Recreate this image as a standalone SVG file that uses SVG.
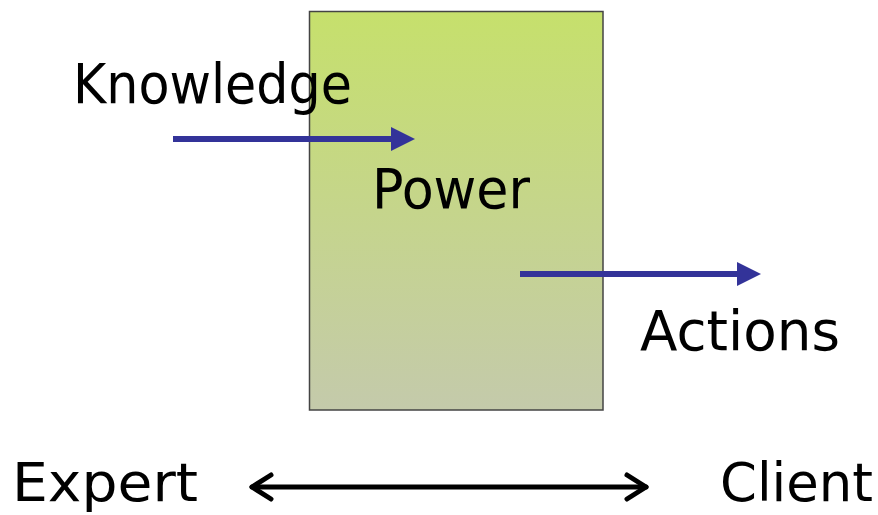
<svg xmlns="http://www.w3.org/2000/svg" width="878" height="515" viewBox="0 0 878 515">
<defs>
<linearGradient id="g" x1="0" y1="0" x2="0" y2="1">
<stop offset="0" stop-color="#c6e06c"/>
<stop offset="1" stop-color="#c4caab"/>
</linearGradient>
<marker id="blue" markerUnits="userSpaceOnUse" markerWidth="24" markerHeight="24" refX="0" refY="12" orient="auto">
<path d="M0,0 L24,12 L0,24 Z" fill="#333399"/>
</marker>
<style>
text{font-family:"DejaVu Sans","Liberation Sans",sans-serif;font-size:56px;fill:#000}
.s{font-size:54px}
.b{stroke:#333399;stroke-width:6;fill:none}
.k{stroke:#000;stroke-width:5;fill:none;stroke-linecap:round;stroke-linejoin:round}
</style>
</defs>
<g id="box"><rect x="309.5" y="11.5" width="293.5" height="398.5" fill="url(#g)" stroke="#444" stroke-width="1.5"/></g>
<g id="knowledge"><text x="73" y="103" textLength="279" lengthAdjust="spacingAndGlyphs">Knowledge</text></g>
<g id="power"><text x="372" y="208" textLength="158" lengthAdjust="spacingAndGlyphs">Power</text></g>
<g id="actions"><text x="640" y="350" textLength="200" lengthAdjust="spacingAndGlyphs">Actions</text></g>
<g id="expert"><text class="s" x="12" y="501" textLength="186" lengthAdjust="spacingAndGlyphs">Expert</text></g>
<g id="client"><text class="s" x="720" y="501" textLength="153" lengthAdjust="spacingAndGlyphs">Client</text></g>
<g id="connectors">
<line class="b" x1="173" y1="139" x2="391" y2="139" marker-end="url(#blue)"/>
<line class="b" x1="520" y1="274" x2="737" y2="274" marker-end="url(#blue)"/>
<line class="k" x1="252" y1="487" x2="646" y2="487"/>
<polyline class="k" points="271,475 252,487 271,499"/>
<polyline class="k" points="627,475 646,487 627,499"/>
</g>
</svg>
